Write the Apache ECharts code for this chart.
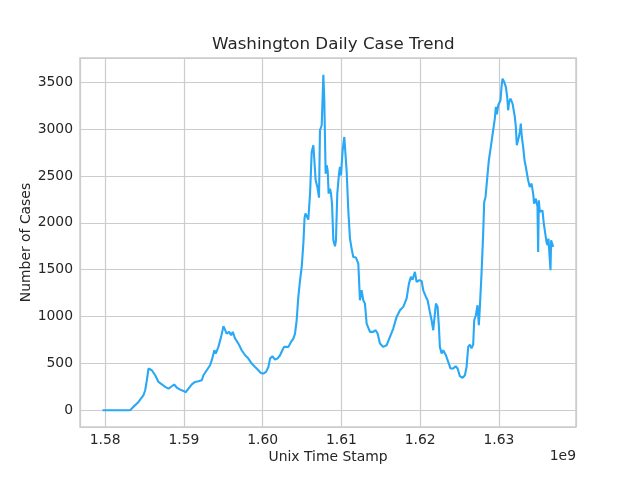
<!DOCTYPE html>
<html>
<head>
<meta charset="utf-8">
<script src="https://cdn.jsdelivr.net/npm/echarts@6/dist/echarts.min.js"></script>
<style>
  html, body { margin: 0; padding: 0; background: #fff; }
  #main { width: 640px; height: 480px; }
</style>
</head>
<body>
<div id="main"></div>
<script>
// unix time stamp, in units of 1e9 seconds
var stamps = [
  1.57966, 1.58317, 1.58360, 1.58423, 1.58486, 1.58508, 1.58529, 1.58550, 1.58563, 1.58592,
  1.58635, 1.58677, 1.58719, 1.58761, 1.58804, 1.58846, 1.58876, 1.58909, 1.58952, 1.58994,
  1.59024, 1.59058, 1.59100, 1.59142, 1.59184, 1.59227, 1.59248, 1.59290, 1.59332, 1.59354,
  1.59387, 1.59404, 1.59438, 1.59472, 1.59502, 1.59523, 1.59544, 1.59574, 1.59599, 1.59620,
  1.59650, 1.59692, 1.59734, 1.59777, 1.59819, 1.59861, 1.59904, 1.59946, 1.59975, 1.60009,
  1.60043, 1.60073, 1.60094, 1.60124, 1.60157, 1.60187, 1.60221, 1.60250, 1.60272, 1.60297,
  1.60327, 1.60360, 1.60390, 1.60411, 1.60432, 1.60453, 1.60475, 1.60496, 1.60517, 1.60532,
  1.60544, 1.60559, 1.60580, 1.60602, 1.60623, 1.60644, 1.60657, 1.60673, 1.60695, 1.60716,
  1.60728, 1.60750, 1.60771, 1.60783, 1.60800, 1.60813, 1.60826, 1.60838, 1.60855, 1.60868,
  1.60881, 1.60898, 1.60919, 1.60931, 1.60948, 1.60970, 1.60982, 1.60995, 1.61016, 1.61037,
  1.61067, 1.61088, 1.61109, 1.61130, 1.61151, 1.61185, 1.61215, 1.61236, 1.61257, 1.61278,
  1.61299, 1.61321, 1.61363, 1.61405, 1.61435, 1.61460, 1.61490, 1.61532, 1.61574, 1.61617,
  1.61659, 1.61701, 1.61744, 1.61786, 1.61828, 1.61858, 1.61883, 1.61904, 1.61934, 1.61955,
  1.61989, 1.62019, 1.62040, 1.62074, 1.62095, 1.62124, 1.62146, 1.62167, 1.62179, 1.62201,
  1.62222, 1.62239, 1.62251, 1.62273, 1.62294, 1.62327, 1.62357, 1.62387, 1.62420, 1.62450,
  1.62476, 1.62505, 1.62539, 1.62569, 1.62590, 1.62611, 1.62632, 1.62653, 1.62674, 1.62687,
  1.62708, 1.62729, 1.62746, 1.62759, 1.62780, 1.62801, 1.62814, 1.62831, 1.62852, 1.62873,
  1.62898, 1.62928, 1.62949, 1.62962, 1.62975, 1.62992, 1.63021, 1.63034, 1.63047, 1.63068,
  1.63089, 1.63106, 1.63118, 1.63131, 1.63148, 1.63161, 1.63174, 1.63186, 1.63203, 1.63216,
  1.63228, 1.63241, 1.63254, 1.63267, 1.63279, 1.63292, 1.63309, 1.63326, 1.63343, 1.63360,
  1.63372, 1.63393, 1.63415, 1.63436, 1.63448, 1.63470, 1.63491, 1.63499, 1.63508, 1.63520,
  1.63533, 1.63554, 1.63571, 1.63584, 1.63605, 1.63618, 1.63630, 1.63647, 1.63656, 1.63664,
  1.63681, 1.63690
];

// daily cases
var cases = [
  0, 0, 36, 89, 160, 213, 320, 445, 462, 427,
  373, 302, 277, 249, 231, 256, 274, 242, 220, 206,
  192, 231, 277, 302, 309, 320, 373, 427, 480, 534,
  640, 605, 676, 783, 896, 896, 818, 836, 800, 836,
  765, 711, 640, 587, 551, 498, 462, 427, 398, 391,
  409, 462, 551, 576, 541, 551, 587, 640, 676, 658,
  676, 729, 765, 818, 960, 1209, 1387, 1529, 1778, 2050,
  2099, 2099, 2034, 2312, 2756, 2828, 2668, 2454, 2383, 2269,
  2988, 3041, 3580, 3308, 2525, 2614, 2560, 2312, 2365, 2312,
  2205, 1814, 1750, 1814, 2312, 2525, 2596, 2507, 2774, 2916,
  2550, 2130, 1832, 1725, 1636, 1629, 1565, 1174, 1280, 1174,
  1138, 925, 836, 836, 854, 818, 711, 676, 693, 782,
  872, 996, 1067, 1103, 1191, 1351, 1423, 1394, 1476, 1369,
  1387, 1380, 1280, 1209, 1174, 1049, 960, 854, 960, 1138,
  1103, 889, 676, 605, 640, 587, 516, 445, 445, 470,
  445, 363, 345, 373, 462, 676, 700, 660, 700, 960,
  1014, 1120, 907, 1103, 1458, 1885, 2223, 2276, 2294, 2668,
  2810, 2988, 3112, 3237, 3158, 3255, 3308, 3450, 3539, 3503,
  3450, 3343, 3201, 3290, 3325, 3343, 3272, 3290, 3130, 3023,
  2828, 2845, 2916, 2970, 3059, 2916, 2810, 2668, 2596, 2579,
  2454, 2383, 2419, 2312, 2205, 2258, 2170, 1689, 2241, 2116,
  2134, 2134, 1992, 2010, 1796, 1760, 1832, 1814, 1494, 1814,
  1796, 1743
];

var textColor = '#262626';
var gridColor = '#cccccc';

var myChart = echarts.init(document.getElementById('main'), null, { renderer: 'canvas' });

var option = {
  backgroundColor: '#ffffff',
  animation: false,
  textStyle: { fontFamily: 'DejaVu Sans' },
  title: {
    text: 'Washington Daily Case Trend',
    left: 207,
    top: 31,
    textStyle: { color: textColor, fontSize: 16.7, fontWeight: 'normal', fontFamily: 'DejaVu Sans' }
  },
  grid: {
    left: 80, right: 64, top: 58, bottom: 53,
    show: true,
    borderColor: gridColor,
    borderWidth: 1.5,
    backgroundColor: '#ffffff'
  },
  xAxis: {
    type: 'value',
    min: 1.5768,
    max: 1.6398,
    splitNumber: 6,
    name: 'Unix Time Stamp',
    nameLocation: 'middle',
    nameGap: 23,
    nameMoveOverlap: false,
    nameTextStyle: { color: textColor, fontSize: 13.9, fontFamily: 'DejaVu Sans' },
    axisLine: { show: false },
    axisTick: { show: false },
    axisLabel: {
      color: textColor, fontSize: 13.9, margin: 6,
      showMinLabel: false, showMaxLabel: false,
      formatter: function (v) { return v.toFixed(2); }
    },
    splitLine: { show: true, lineStyle: { color: gridColor, width: 1.2 } }
  },
  yAxis: {
    type: 'value',
    min: -179,
    max: 3759,
    splitNumber: 8,
    name: 'Number of Cases',
    nameLocation: 'middle',
    nameGap: 47,
    nameMoveOverlap: false,
    nameTextStyle: { color: textColor, fontSize: 13.9, fontFamily: 'DejaVu Sans' },
    axisLine: { show: false },
    axisTick: { show: false },
    axisLabel: {
      color: textColor, fontSize: 13.9, margin: 7,
      showMinLabel: false, showMaxLabel: false,
      formatter: function (v) { return String(v); }
    },
    splitLine: { show: true, lineStyle: { color: gridColor, width: 1.2 } }
  },
  graphic: [{
    type: 'text',
    right: 64,
    top: 449,
    style: { text: '1e9', fill: textColor, fontSize: 13.9, fontFamily: 'DejaVu Sans' }
  }],
  series: [{
    type: 'line',
    data: stamps.map(function (t, i) { return [t, cases[i]]; }),
    showSymbol: false,
    symbol: 'none',
    lineStyle: { color: '#29a8f6', width: 2.1 },
    z: 3
  }]
};

myChart.setOption(option);
</script>
</body>
</html>
